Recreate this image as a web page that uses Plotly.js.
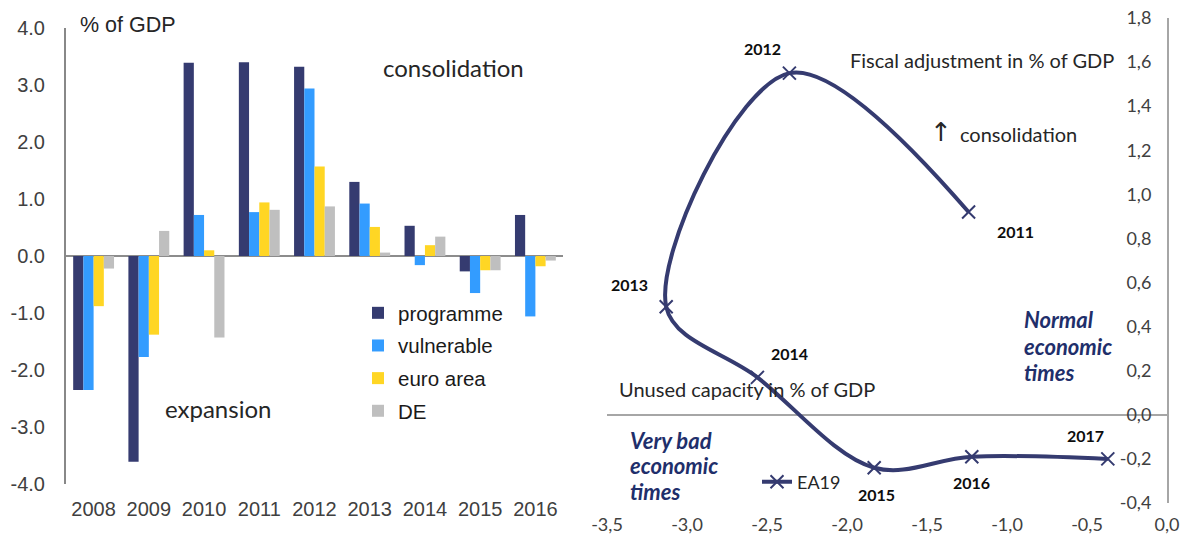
<!DOCTYPE html>
<html>
<head>
<meta charset="utf-8">
<script src="https://cdn.plot.ly/plotly-3.0.1.min.js"></script>
<style>
  html, body { margin: 0; padding: 0; background: #ffffff; }
  #chart { width: 1180px; height: 534px; }
</style>
</head>
<body>
<div id="chart"></div>
<script>
// ---------- Left chart data: fiscal stance by country group ----------
const years = ["2008", "2009", "2010", "2011", "2012", "2013", "2014", "2015", "2016"];
const programme  = [-2.35, -3.61,  3.39, 3.40, 3.32, 1.30,  0.53, -0.27,  0.72];
const vulnerable = [-2.35, -1.77,  0.72, 0.77, 2.94, 0.92, -0.16, -0.65, -1.06];
const euroArea   = [-0.88, -1.38,  0.10, 0.94, 1.57, 0.51,  0.19, -0.25, -0.18];
const de         = [-0.22,  0.44, -1.43, 0.81, 0.87, 0.06,  0.34, -0.25, -0.08];
const seriesNames = ["programme", "vulnerable", "euro area", "DE"];
const leftYTickVals = [-4, -3, -2, -1, 0, 1, 2, 3, 4];
const leftYTickText = ["-4.0", "-3.0", "-2.0", "-1.0", "0.0", "1.0", "2.0", "3.0", "4.0"];

// ---------- Right chart data: EA19 fiscal adjustment vs unused capacity ----------
const ea19Years   = ["2011", "2012", "2013", "2014", "2015", "2016", "2017"];
const unusedCap   = [-1.24, -2.36, -3.13, -2.56, -1.83, -1.22, -0.37];
const fiscalAdj   = [ 0.92,  1.55,  0.49,  0.17, -0.24, -0.19, -0.20];
const rightXTickVals = [-3.5, -3.0, -2.5, -2.0, -1.5, -1.0, -0.5, 0.0];
const rightXTickText = ["-3,5", "-3,0", "-2,5", "-2,0", "-1,5", "-1,0", "-0,5", "0,0"];
const rightYTickVals = [-0.4, -0.2, 0.0, 0.2, 0.4, 0.6, 0.8, 1.0, 1.2, 1.4, 1.6, 1.8];
const rightYTickText = ["-0,4", "-0,2", "0,0", "0,2", "0,4", "0,6", "0,8", "1,0", "1,2", "1,4", "1,6", "1,8"];

// ---------- helpers (layout only) ----------
const W = 1180, H = 534;
const px = x => x / W;
const py = y => 1 - y / H;

const barColors = ["#353B70", "#339CFF", "#FFD624", "#BFBFBF"];
const barSeries = [programme, vulnerable, euroArea, de];
const navy = "#353B70";
const textNavy = "#1F2F6B";
const arial = "Liberation Sans, Arial, sans-serif";
const calib = "Lato, Open Sans, sans-serif";

const traces = barSeries.map((vals, i) => ({
  type: "bar",
  name: seriesNames[i],
  x: years,
  y: vals,
  xaxis: "x",
  yaxis: "y",
  marker: { color: barColors[i], line: { width: 0 } },
  legend: "legend",
  legendgroup: "g" + i,
  hoverinfo: "x+y+name"
}));

traces.push({
  type: "scatter",
  mode: "lines+markers",
  name: "EA19",
  x: unusedCap,
  y: fiscalAdj,
  xaxis: "x2",
  yaxis: "y2",
  line: { color: navy, width: 4, shape: "spline", smoothing: 1 },
  marker: { symbol: "x-thin", size: 13, line: { color: navy, width: 2 }, color: navy },
  legend: "legend2",
  cliponaxis: false
});

const annotations = [];
function note(x, y, text, font, xanchor) {
  annotations.push({ xref: "paper", yref: "paper", x: px(x), y: py(y), xanchor: xanchor || "left",
    yanchor: "middle", text: text, showarrow: false, font: font });
}
const darkTxt = "#262626";
// left chart labels
note(78, 25, "% of GDP", { family: arial, size: 21.5, color: darkTxt });
note(381, 68, "consolidation", { family: calib, size: 24, color: darkTxt });
note(163, 408, "expansion", { family: calib, size: 24, color: darkTxt });

// right chart labels
note(1116, 60, "Fiscal adjustment in % of GDP", { family: calib, size: 20, color: darkTxt }, "right");
note(928, 132, "\u2191", { family: "DejaVu Sans, sans-serif", size: 26, color: darkTxt });
note(958, 134, "consolidation", { family: calib, size: 20, color: darkTxt });
note(617, 389, "Unused capacity in % of GDP", { family: calib, size: 20, color: darkTxt });
const emph = { family: calib, size: 22, color: textNavy };
note(1022, 319, "<b><i>Normal</i></b>", emph);
note(1022, 346, "<b><i>economic</i></b>", emph);
note(1022, 372, "<b><i>times</i></b>", emph);
note(628, 440, "<b><i>Very bad</i></b>", emph);
note(628, 465, "<b><i>economic</i></b>", emph);
note(628, 491, "<b><i>times</i></b>", emph);

// year labels near points
const yearShift = [[47, -19], [-27, 25], [-37, 22], [32, 24], [2, -27], [0, -26], [-22, 23]];
ea19Years.forEach((yr, i) => {
  annotations.push({ xref: "x2", yref: "y2", x: unusedCap[i], y: fiscalAdj[i],
    xshift: yearShift[i][0], yshift: yearShift[i][1], text: "<b>" + yr + "</b>", showarrow: false,
    font: { family: calib, size: 16, color: "#0d0d0d" } });
});

const layout = {
  width: W, height: H,
  margin: { l: 0, r: 0, t: 0, b: 0 },
  paper_bgcolor: "#ffffff",
  plot_bgcolor: "rgba(0,0,0,0)",
  barmode: "group",
  bargap: 0.26,
  bargroupgap: 0,
  showlegend: true,
  xaxis: {
    domain: [px(66), px(563)],
    anchor: "y",
    type: "category",
    showline: false, showgrid: false, zeroline: false, ticks: "",
    tickfont: { family: arial, size: 20, color: "#404040" },
    ticklabelstandoff: 11
  },
  yaxis: {
    domain: [py(484), py(28)],
    anchor: "x",
    range: [-4, 4],
    tickmode: "array",
    tickvals: leftYTickVals,
    ticktext: leftYTickText,
    showline: true, linecolor: "#888888", linewidth: 2,
    showgrid: false,
    zeroline: true, zerolinecolor: "#8C8C8C", zerolinewidth: 2,
    ticks: "",
    tickfont: { family: arial, size: 20, color: "#404040" },
    ticklabelstandoff: 15
  },
  xaxis2: {
    domain: [px(607), px(1167)],
    anchor: "y2",
    range: [-3.5, 0],
    tickmode: "array",
    tickvals: rightXTickVals,
    ticktext: rightXTickText,
    showline: false, showgrid: false, zeroline: false, ticks: "",
    tickfont: { family: calib, size: 18, color: "#404040" },
    ticklabelstandoff: 9
  },
  yaxis2: {
    domain: [py(503), py(18)],
    anchor: "free",
    position: px(1167),
    side: "left",
    range: [-0.4, 1.8],
    tickmode: "array",
    tickvals: rightYTickVals,
    ticktext: rightYTickText,
    showline: true, linecolor: "#A6A6A6", linewidth: 1.5,
    showgrid: false,
    zeroline: true, zerolinecolor: "#A6A6A6", zerolinewidth: 1.5,
    ticks: "",
    tickfont: { family: calib, size: 18, color: "#404040" },
    ticklabelstandoff: 12
  },
  legend: {
    x: px(358), y: py(293), xanchor: "left", yanchor: "top",
    bgcolor: "rgba(0,0,0,0)", borderwidth: 0,
    font: { family: arial, size: 20.5, color: "#1a1a1a" },
    itemwidth: 30, tracegroupgap: 3, traceorder: "grouped"
  },
  legend2: {
    x: px(757), y: py(482), xanchor: "left", yanchor: "middle",
    bgcolor: "rgba(0,0,0,0)", borderwidth: 0,
    font: { family: calib, size: 18, color: "#262626" },
    itemwidth: 30
  },
  annotations: annotations
};

Plotly.newPlot("chart", traces, layout, { staticPlot: true, displayModeBar: false });
</script>
</body>
</html>
